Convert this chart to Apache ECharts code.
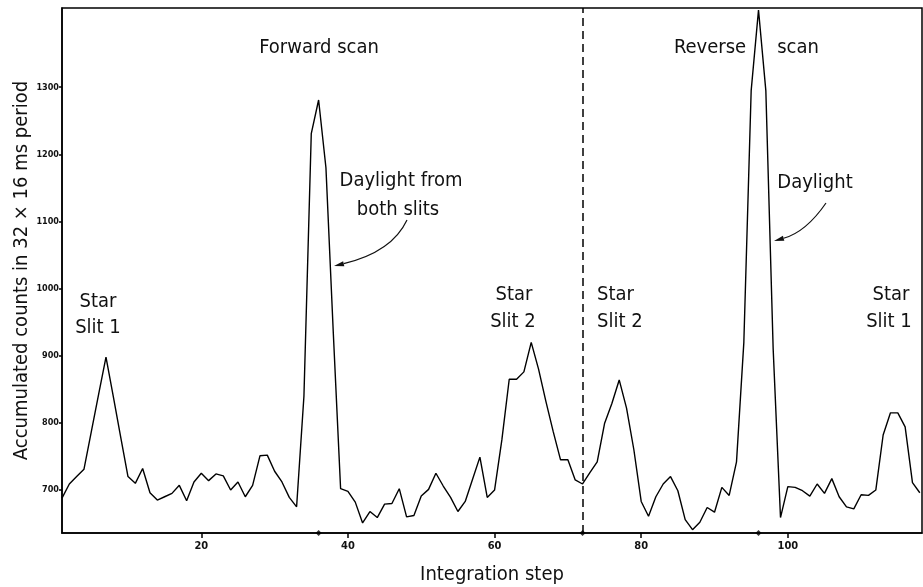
<!DOCTYPE html>
<html><head><meta charset="utf-8">
<script src="https://cdn.jsdelivr.net/npm/echarts@6/dist/echarts.min.js"></script>
<style>html,body{margin:0;padding:0;background:#fff}#c{width:923px;height:587px}</style>
</head><body><div id="c"></div>
<script>
// ---- data ----
const firstStep = 1;
const counts = [
  688, 709, 720, 731, 787, 843, 898, 839, 779, 720,
  710, 732, 696, 685, 690, 695, 707, 684, 712, 725,
  714, 724, 721, 700, 712, 690, 707, 751, 752, 728,
  712, 689, 675, 840, 1231, 1281, 1180, 935, 702, 698,
  682, 651, 668, 659, 679, 680, 702, 660, 662, 691,
  701, 725, 706, 689, 668, 683, 716, 749, 689, 700,
  775, 865, 865, 876, 920, 880, 832, 787, 745, 745,
  715, 709, 726, 742, 799, 829, 864, 822, 760, 683,
  661, 690, 709, 720, 699, 656, 641, 652, 674, 667,
  704, 692, 742, 920, 1295, 1415, 1295, 910, 659, 705,
  704, 699, 691, 709, 695, 717, 690, 675, 672, 693,
  692, 700, 782, 815, 815, 794, 711, 696
];
const yTicks = [700, 800, 900, 1000, 1100, 1200, 1300];
const xTicks = [20, 40, 60, 80, 100];
const scanBoundary = 72;
const markerSteps = [36, 72, 96];
const yMin = 636, yMax = 1418;
const xMin = 1, xMax = 118.3;

const FONT = "'DejaVu Sans Condensed','DejaVu Sans',sans-serif";
const seriesData = counts.map((v, i) => [firstStep + i, v]);

const chart = echarts.init(document.getElementById('c'), null, {renderer: 'canvas'});

function txt(text, x, y, align) {
  return {type: 'text', x: x, y: y, z: 100,
    style: {text: text, fill: '#111', font: '20px ' + FONT,
      align: align || 'center', verticalAlign: 'middle'}};
}
function arrow(x1, y1, cx, cy, x2, y2) {
  const dx = x2 - cx, dy = y2 - cy, L = Math.hypot(dx, dy);
  const ux = dx / L, uy = dy / L, px = -uy, py = ux;
  const hl = 10, hw = 2.6;
  const bx = x2 - ux * hl, by = y2 - uy * hl;
  return [
    {type: 'bezierCurve', z: 100, shape: {x1: x1, y1: y1, cpx1: cx, cpy1: cy, x2: bx, y2: by},
      style: {stroke: '#111', lineWidth: 1.2, fill: null}},
    {type: 'polygon', z: 100, shape: {points: [[x2, y2], [bx + px * hw, by + py * hw], [bx - px * hw, by - py * hw]]},
      style: {fill: '#111'}}
  ];
}

const option = {
  backgroundColor: '#fff',
  animation: false,
  grid: {left: 62, right: 1, top: 8, bottom: 54, show: true, borderColor: '#000', borderWidth: 1.5,
    outerBoundsMode: 'none', containLabel: false},
  xAxis: {
    type: 'value', min: xMin, max: xMax,
    name: 'Integration step', nameLocation: 'middle', nameGap: 32, nameMoveOverlap: false,
    nameTextStyle: {fontFamily: FONT, fontSize: 20, color: '#111'},
    axisLine: {show: true, lineStyle: {color: '#000', width: 1.5}},
    axisTick: {show: true, customValues: xTicks, length: 5, lineStyle: {color: '#000', width: 1.5}},
    axisLabel: {customValues: xTicks, fontFamily: FONT, fontSize: 11, fontWeight: 'bold', color: '#111', margin: 8,
      formatter: v => String(v)},
    splitLine: {show: false}
  },
  yAxis: {
    type: 'value', min: yMin, max: yMax,
    name: 'Accumulated counts in 32 \u00d7 16 ms period', nameLocation: 'middle', nameGap: 30, nameRotate: 90,
    nameMoveOverlap: false,
    nameTextStyle: {fontFamily: FONT, fontSize: 20, color: '#111'},
    axisLine: {show: true, lineStyle: {color: '#000', width: 1.5}},
    axisTick: {show: true, customValues: yTicks, length: 3, lineStyle: {color: '#000', width: 1.5}},
    axisLabel: {customValues: yTicks, fontFamily: FONT, fontSize: 9, fontWeight: 'bold', color: '#111', margin: 3,
      formatter: v => String(v)},
    splitLine: {show: false}
  },
  series: [
    {
      type: 'line', data: seriesData, showSymbol: false, symbol: 'none',
      lineStyle: {color: '#000', width: 1.4}, silent: true,
      markLine: {
        silent: true, symbol: ['none', 'none'], label: {show: false},
        lineStyle: {color: '#000', width: 1.5, type: [8, 5]},
        data: [{xAxis: scanBoundary}]
      }
    },
    {
      type: 'scatter', data: markerSteps.map(s => [s, yMin]), symbol: 'diamond', symbolSize: 6,
      itemStyle: {color: '#000'}, clip: false, silent: true, z: 5
    }
  ],
  graphic: [].concat(
    [
      txt('Forward scan', 319, 48),
      txt('Reverse', 710, 48),
      txt('scan', 798, 48),
      txt('Daylight from', 401, 181),
      txt('both slits', 398, 210),
      txt('Daylight', 815, 183),
      txt('Star', 98, 302), txt('Slit 1', 98, 328),
      txt('Star', 514, 295), txt('Slit 2', 513, 322),
      txt('Star', 597, 295, 'left'), txt('Slit 2', 597, 322, 'left'),
      txt('Star', 891, 295), txt('Slit 1', 889, 322)
    ],
    arrow(407, 220, 392, 252, 334, 266),
    arrow(826, 203, 806, 232, 774, 241)
  )
};
chart.setOption(option);
</script></body></html>
